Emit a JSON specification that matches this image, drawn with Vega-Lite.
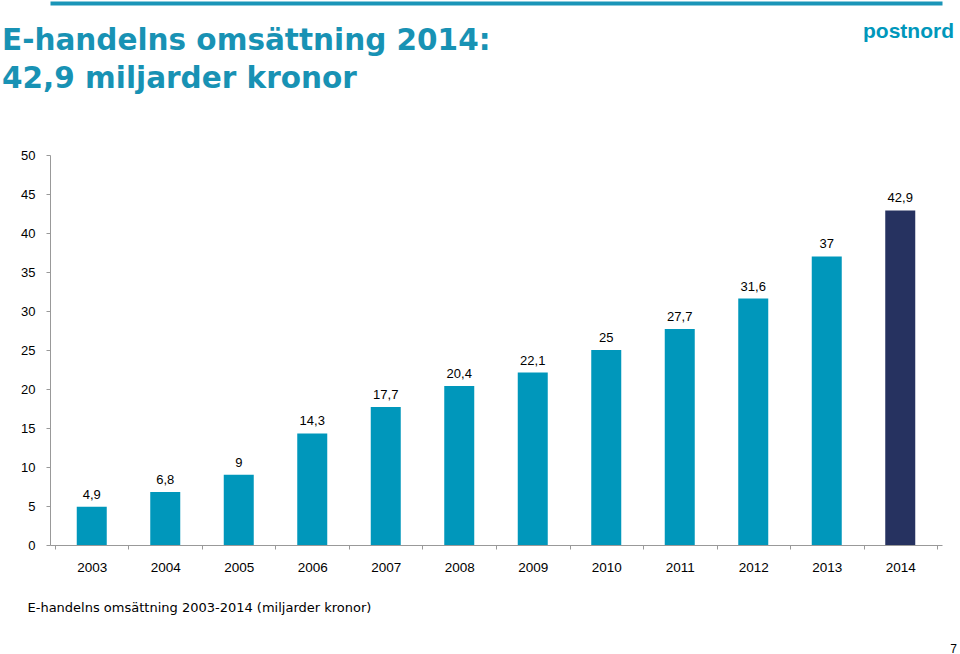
{
  "$schema": "https://vega.github.io/schema/vega-lite/v6.json",
  "width": 892,
  "height": 390,
  "autosize": {"type": "none"},
  "padding": {"left": 50, "top": 155, "right": 18, "bottom": 109},
  "background": "white",
  "config": {
    "view": {"stroke": null},
    "font": "Liberation Sans",
    "locale": {"number": {"decimal": ",", "thousands": " ", "grouping": [3], "currency": ["", " kr"]}}
  },
  "title": {
    "text": ["E-handelns omsättning 2014:", "42,9 miljarder kronor"],
    "anchor": "start",
    "frame": "group",
    "orient": "top",
    "font": "DejaVu Sans",
    "fontSize": 29.5,
    "fontWeight": "bold",
    "color": "#1892B4",
    "lineHeight": 38,
    "baseline": "alphabetic",
    "dx": -48,
    "offset": -114
  },
  "data": {
    "values": [
      {"year": 2003, "value": 4.9, "group": "2003-2013"},
      {"year": 2004, "value": 6.8, "group": "2003-2013"},
      {"year": 2005, "value": 9, "group": "2003-2013"},
      {"year": 2006, "value": 14.3, "group": "2003-2013"},
      {"year": 2007, "value": 17.7, "group": "2003-2013"},
      {"year": 2008, "value": 20.4, "group": "2003-2013"},
      {"year": 2009, "value": 22.1, "group": "2003-2013"},
      {"year": 2010, "value": 25, "group": "2003-2013"},
      {"year": 2011, "value": 27.7, "group": "2003-2013"},
      {"year": 2012, "value": 31.6, "group": "2003-2013"},
      {"year": 2013, "value": 37, "group": "2003-2013"},
      {"year": 2014, "value": 42.9, "group": "2014"}
    ]
  },
  "resolve": {"axis": {"x": "independent", "y": "independent"}},
  "layer": [
    {
      "mark": {"type": "bar", "size": 30},
      "encoding": {
        "x": {
          "field": "year",
          "type": "quantitative",
          "scale": {"domain": [2002.5, 2014.5], "nice": false, "zero": false},
          "axis": {
            "orient": "bottom",
            "values": [2002.5, 2003, 2003.5, 2004, 2004.5, 2005, 2005.5, 2006, 2006.5, 2007, 2007.5, 2008, 2008.5, 2009, 2009.5, 2010, 2010.5, 2011, 2011.5, 2012, 2012.5, 2013, 2013.5, 2014, 2014.5],
            "labelExpr": "datum.value % 1 === 0 ? '' + datum.value : ''",
            "tickOpacity": {"condition": {"test": "datum.value % 1 === 0", "value": 0}, "value": 1},
            "grid": false,
            "domainColor": "#999999",
            "tickColor": "#999999",
            "tickSize": 4,
            "labelPadding": 11,
            "labelFontSize": 13.5,
            "labelColor": "#000000",
            "labelFont": "Liberation Sans",
            "title": "E-handelns omsättning 2003-2014 (miljarder kronor)",
            "titleFont": "DejaVu Sans",
            "titleFontSize": 13,
            "titleFontWeight": "normal",
            "titleColor": "#000000",
            "titleAlign": "left",
            "titleBaseline": "alphabetic",
            "titleX": -23,
            "titleY": 66
          }
        },
        "y": {
          "field": "value",
          "type": "quantitative",
          "scale": {"domain": [0, 50], "nice": false},
          "axis": {
            "orient": "left",
            "values": [0, 5, 10, 15, 20, 25, 30, 35, 40, 45, 50],
            "grid": false,
            "domainColor": "#999999",
            "tickColor": "#999999",
            "tickSize": 4,
            "labelPadding": 11,
            "labelFontSize": 13,
            "labelColor": "#000000",
            "labelFont": "Liberation Sans",
            "title": null
          }
        },
        "color": {
          "field": "group",
          "type": "nominal",
          "scale": {"domain": ["2003-2013", "2014"], "range": ["#0097BB", "#263260"]},
          "legend": null
        }
      }
    },
    {
      "mark": {"type": "text", "baseline": "alphabetic", "dy": -8, "fontSize": 13, "font": "Liberation Sans", "color": "#000000"},
      "encoding": {
        "x": {
          "field": "year",
          "type": "quantitative",
          "scale": {"domain": [2002.5, 2014.5], "nice": false, "zero": false},
          "axis": {
            "orient": "top",
            "offset": 152,
            "labels": false,
            "ticks": false,
            "domain": true,
            "domainColor": "#1A95B8",
            "domainWidth": 4,
            "grid": false,
            "title": "postnord",
            "titleFont": "Liberation Sans",
            "titleFontSize": 21,
            "titleFontWeight": "bold",
            "titleColor": "#0097BB",
            "titleAlign": "center",
            "titleBaseline": "alphabetic",
            "titleX": 858,
            "titleY": 34
          }
        },
        "y": {
          "field": "value",
          "type": "quantitative",
          "scale": {"domain": [0, 50], "nice": false},
          "axis": {
            "orient": "right",
            "labels": false,
            "ticks": false,
            "domain": false,
            "grid": false,
            "title": "7",
            "titleAngle": 0,
            "titleFont": "Liberation Sans",
            "titleFontSize": 12,
            "titleFontWeight": "normal",
            "titleColor": "#000000",
            "titleAlign": "center",
            "titleBaseline": "alphabetic",
            "titleX": 11,
            "titleY": 497
          }
        },
        "text": {"field": "value", "type": "quantitative", "format": ".1~f"}
      }
    }
  ]
}
